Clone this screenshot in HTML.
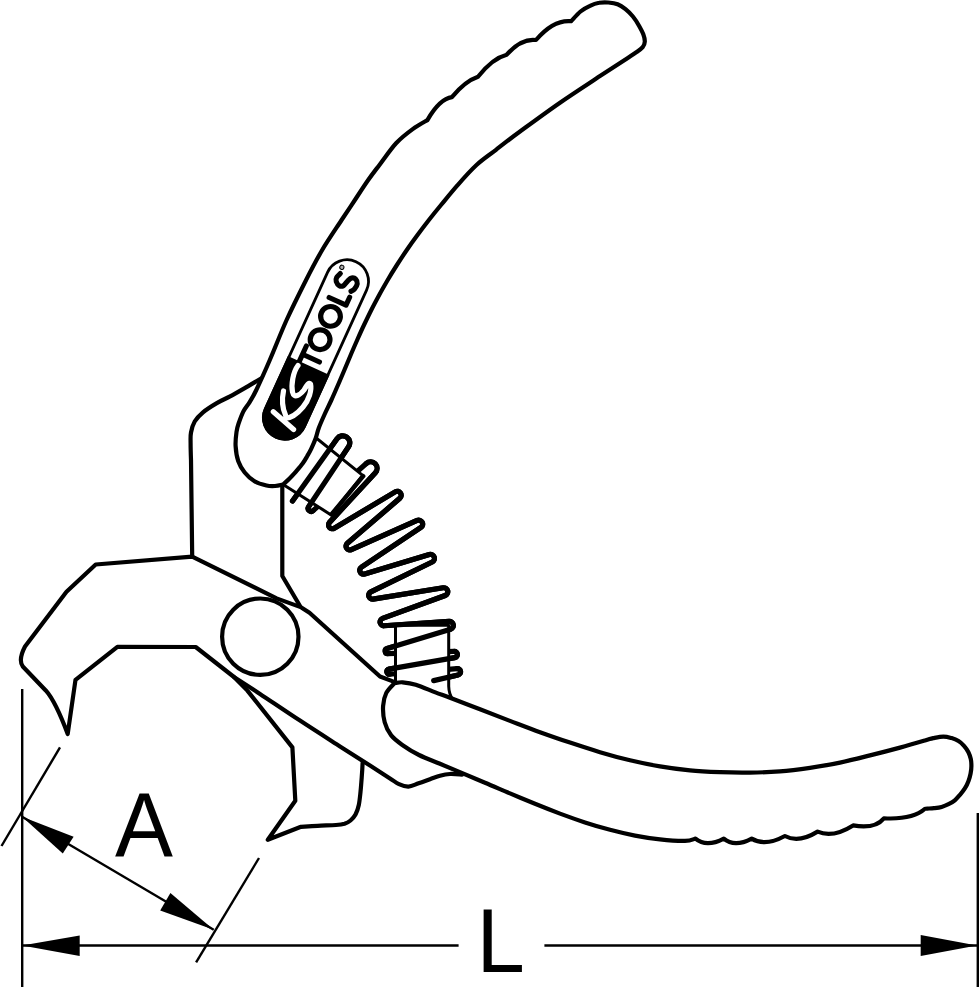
<!DOCTYPE html>
<html><head><meta charset="utf-8"><style>html,body{margin:0;padding:0;background:#fff;width:979px;height:1000px;overflow:hidden}svg{display:block}</style></head>
<body><svg width="979" height="1000" viewBox="0 0 979 1000">
<rect width="979" height="1000" fill="#fff"/>
<g fill="none" stroke="#000" stroke-width="5.2" stroke-linejoin="round" stroke-linecap="round">
<path d="M292.5 501L337.03 438.82A7 7 0 0 1 348.55 446.78L308.68 506.66A3 3 0 0 0 313.17 510.57L366.29 463.46A6.5 6.5 0 0 1 375.37 472.74L329.53 522.37A3.8 3.8 0 0 0 334.27 528.21L395.17 491.86A4 4 0 0 1 399.82 498.33L347.36 543.27A3.8 3.8 0 0 0 351.38 549.63L417.08 520.48A4 4 0 0 1 420.92 527.46L361.48 567.13A3.8 3.8 0 0 0 364.68 573.93L429.3 554.54A4 4 0 0 1 432.2 561.97L370.84 591.89A3.8 3.8 0 0 0 373.11 599.06L443.17 587.78A4 4 0 0 1 445.18 595.48L382.55 618.41A3.8 3.8 0 0 0 384.11 625.77L449.13 621.44A4 4 0 0 1 450.56 629.25L387.07 648.55A2.6 2.6 0 0 0 387.92 653.64L454.12 651.31A3.2 3.2 0 0 1 454.78 657.66L388.92 669.1A2.6 2.6 0 0 0 389.58 674.25L457.06 668.65A3.2 3.2 0 0 1 458.05 674.96L433.7 680.6"/>
</g>
<g fill="#fff" stroke="#000" stroke-width="3" stroke-linejoin="round" stroke-linecap="round">
<path d="M310 433L362.7 475.3L331.1 514.9L276 480Z"/>
<path d="M395.5 625.3L448.7 625.3L448.7 686.3Q449 694 452.5 699L452.5 705L395.5 705Z"/>
<path d="M363.2 476.2L331.6 514.2" fill="none" stroke-width="4.4"/>
</g>
<g fill="none" stroke="#000" stroke-width="5.2" stroke-linejoin="round" stroke-linecap="round">
<path d="M292.5 501L337.03 438.82A7 7 0 0 1 348.55 446.78L308.68 506.66A3 3 0 0 0 313.17 510.57M366.29 463.46A6.5 6.5 0 0 1 375.37 472.74L329.53 522.37A3.8 3.8 0 0 0 334.27 528.21L395.17 491.86A4 4 0 0 1 399.82 498.33L347.36 543.27A3.8 3.8 0 0 0 351.38 549.63L417.08 520.48A4 4 0 0 1 420.92 527.46L361.48 567.13A3.8 3.8 0 0 0 364.68 573.93L429.3 554.54A4 4 0 0 1 432.2 561.97L370.84 591.89A3.8 3.8 0 0 0 373.11 599.06L443.17 587.78A4 4 0 0 1 445.18 595.48L382.55 618.41A3.8 3.8 0 0 0 384.11 625.77L449.13 621.44A4 4 0 0 1 450.56 629.25L387.07 648.55A2.6 2.6 0 0 0 387.92 653.64M454.12 651.31A3.2 3.2 0 0 1 454.78 657.66L388.92 669.1A2.6 2.6 0 0 0 389.58 674.25M457.06 668.65A3.2 3.2 0 0 1 458.05 674.96L433.7 680.6"/>
</g>
<g fill="none" stroke="#000" stroke-width="4.2" stroke-linejoin="round" stroke-linecap="round">
<path d="M261 378.5C258.2 380.1 249.5 385.4 244.3 388.4C239.1 391.4 234.2 394.2 229.6 396.7C225 399.1 221.2 400.5 216.8 403.1C212.4 405.7 206.7 409.2 203 412.3C199.3 415.4 196.7 418.1 194.7 421.5C192.7 424.9 191.7 428.8 191 432.5C190.3 436.2 190.6 438.9 190.6 443.5C190.6 448.1 190.9 457.2 191 460L192.2 556.6"/>
<path d="M282.3 487L282.3 576L300 606"/>
<path d="M393.5 681.6L380 676.5L309.5 612.8L301.3 607.4L276.6 598.4L192.2 556.6L95.7 564.5L66.5 591.8L25 646.5Q18 660 22.8 666.5L46 690.7Q55.5 701.5 67.7 734L75.5 679.8L117.4 646.9L195.7 647L234 677C238.3 679.8 249 686.6 260 693.9C271 701.2 286.7 711.9 300 720.6C313.3 729.4 328.3 738.9 340 746.4C351.7 753.9 361.7 760.3 370 765.6C378.3 770.9 385.2 775.3 390 778.4C394.8 781.5 395.9 782.7 399 784.1C402.1 785.5 405.1 786.7 408.4 786.6C411.7 786.5 415 784.5 418.6 783.3C422.2 782.1 426.4 780.5 430 779.2C433.6 778 436.7 776.7 440 775.8C443.3 774.9 446.3 774.2 450 774C453.7 773.8 460 774.5 462 774.6"/>
<path d="M234 677L247.4 690.6L292.4 747.4L295.3 800.7L267.8 839.8L301 826.8C303.8 826.6 311.8 826.1 317.6 825.8C323.4 825.5 331.5 825.3 336 825C340.5 824.7 342.1 824.5 344.5 823.8C346.9 823 348.7 822 350.5 820.5C352.3 819 354.1 817.1 355.5 814.5C356.9 811.9 358 808.8 358.8 805C359.6 801.2 360 796.6 360.5 792C361 787.4 361.3 782.5 361.7 777.6C362.1 772.8 362.5 765.4 362.6 762.9"/>
<circle cx="260.3" cy="636.7" r="38.2"/>
</g>
<g fill="#fff" stroke="#000" stroke-width="4.2" stroke-linejoin="round">
<path d="M283.2 484.4C281.8 484.7 277.8 485.8 275 486C272.2 486.2 269.9 486.3 266.5 485.5C263.1 484.7 258.1 483.4 254.5 481.2C250.9 479 247.4 475.9 244.7 472.5C242 469.1 239.7 465.4 238.2 461C236.7 456.6 235.9 450.8 235.6 446C235.3 441.2 236 435.7 236.5 432C237 428.3 237.3 427.1 238.5 423.7C239.7 420.3 241.6 415 243.4 411.4C245.2 407.8 247.3 405.9 249.5 402.3C251.7 398.7 252.9 397.1 256.3 390C259.7 382.9 264.8 371.7 269.8 360C274.9 348.3 280.6 333.3 286.6 320C292.7 306.7 300.2 291.7 306.1 280C312 268.3 316.3 260 322.2 250C328.1 240 336.2 228.3 341.6 220C347.1 211.7 350.5 206.7 354.9 200C359.3 193.3 364 186 368.2 180C372.4 174 375.3 170.4 380 164.2C384.7 158 390.9 148.8 396.3 143C401.8 137.2 407.5 132.9 412.7 129.1C417.9 125.3 424.9 121.6 427.4 120.1Q439.6 99 451.9 97.2Q464.9 81.3 478 76.8Q492.4 58.3 506.7 54.7Q521.4 38 536 40Q553.5 19.4 571.1 21.2C572.7 19.6 577.4 14.1 580.5 11.5C583.6 8.9 586.9 7.2 590 5.8C593.1 4.3 596.1 3.3 599.2 2.8C602.3 2.2 605.3 2.2 608.4 2.5C611.5 2.8 614.8 3.2 617.6 4.3C620.5 5.4 623 7.2 625.5 9.2C628 11.2 630.6 13.8 632.9 16.5C635.1 19.2 637.3 22.7 639 25.7C640.7 28.7 642.3 31.6 643.3 34.3C644.3 37 644.9 39.6 644.8 41.7C644.7 43.9 644.1 45.5 642.7 47.2C641.3 48.9 639.2 50.3 636.6 52.1C634 53.9 633.5 54.2 627.4 58.2C621.3 62.2 611.2 68.7 600 76.1C588.8 83.5 573.3 93.5 560 102.7C546.7 111.9 530.7 123.7 520 131.5C509.3 139.3 503.2 144.2 496 149.8C488.8 155.4 482.9 159.1 476.5 165C470.1 170.9 463.5 178.4 457.6 185.1C451.7 191.8 445.8 199.2 441 205C436.2 210.8 432.8 215 428.9 220C425 225 421.2 230 417.5 235C413.8 240 410.2 245 406.8 250C403.4 255 400.1 260 396.9 265C393.7 270 390.6 275 387.7 280C384.8 285 381.9 290 379.2 295C376.5 300 373.8 305 371.3 310C368.8 315 366.4 320 364 325C361.6 330 359.4 335 357.2 340C355 345 352.8 350 350.7 355C348.6 360 346.5 365 344.4 370C342.3 375 340.2 380 338 385C335.8 390 333.7 395 331.4 400C329.1 405 326.4 410.3 324.3 415C322.2 419.7 320.1 424.4 318.7 428.2C317.3 432 317 434.6 315.8 438C314.6 441.4 312.7 445.6 311.3 448.6C309.9 451.6 308.7 453.6 307.3 456C305.9 458.4 304.7 460.6 302.8 463.2C300.9 465.8 298.4 468.7 296.2 471.3C293.9 473.9 291.5 476.5 289.3 478.7C287.1 480.9 284.2 483.4 283.2 484.4Z"/>
<path d="M394.5 683.1C395.9 683 399.1 682 402.7 682.3C406.2 682.6 410.4 683 415.8 684.7C421.2 686.4 429.7 690.2 435.4 692.4C441.1 694.6 442.6 694.9 450 697.7C457.4 700.5 470 705.4 480 709.3C490 713.2 500 717.1 510 720.9C520 724.7 530 728.6 540 732.2C550 735.8 560 739.3 570 742.6C580 745.9 590 749.2 600 752.2C610 755.2 620 757.9 630 760.3C640 762.7 650 764.7 660 766.4C670 768.1 680 769.4 690 770.4C700 771.4 710 771.8 720 772.2C730 772.6 740 772.8 750 772.6C760 772.5 770 772.1 780 771.3C790 770.5 800 769.2 810 767.8C820 766.3 830 764.7 840 762.6C850 760.5 860 757.9 870 755.4C880 752.9 890.8 750.1 900 747.6C909.2 745.1 919.5 742.1 925 740.5C930.5 738.9 930.1 738.8 933.2 738.1C936.3 737.5 940.3 736.6 943.4 736.6C946.5 736.6 949.1 737.4 951.6 738.1C954.1 738.8 956.4 739.7 958.5 741C960.6 742.3 962.4 744 964 745.8C965.6 747.6 967.2 749.8 968.3 752C969.4 754.2 970.3 756.7 970.8 759C971.3 761.3 971.4 763.6 971.4 766C971.4 768.4 971.1 771 970.6 773.5C970.1 776 969.4 778.5 968.5 781C967.6 783.5 966.4 785.9 965 788.2C963.6 790.5 961.7 792.8 960 794.8C958.3 796.8 956.7 798.7 954.8 800.3C952.9 801.9 950.7 803.1 948.5 804.2C946.3 805.3 944 806.2 941.6 806.9C939.2 807.6 936.4 807.9 934 808.2C931.6 808.5 928.8 808.5 927.3 808.6C925.8 808.7 925.4 808.8 925 808.8Q912.7 819.8 883.9 818.3Q874.7 829.4 853.1 825.4Q832.7 838.3 817.6 831.6Q798.6 843.4 784.9 836Q765 846.8 751.7 838.6Q734.4 847.8 723.8 838.6Q706.3 847.8 695.5 838.6C693.8 839 690.9 840.8 685 840.9C679.1 841 668.3 840.3 660 839.4C651.7 838.5 643.3 837.2 635 835.6C626.7 834 618.3 832 610 829.8C601.7 827.6 593.3 825.1 585 822.4C576.7 819.7 568.3 816.7 560 813.6C551.7 810.5 543.3 807.2 535 803.8C526.7 800.4 518.3 796.9 510 793.4C501.7 789.9 493.4 786.2 485 782.7C476.6 779.2 467.6 775.4 459.9 772.1C452.2 768.9 445.4 766.1 438.6 763.2C431.8 760.4 425 758 419 755C413 752 407.3 748.5 402.7 745.2C398.1 741.9 394.2 739.2 391.2 735.4C388.2 731.6 386 727.2 384.7 722.3C383.4 717.4 382.8 710.9 383.1 706C383.4 701.1 384.4 696.7 386.3 692.9C388.2 689.1 393.1 684.7 394.5 683.1Z"/>
</g>
<!-- logo -->
<g transform="translate(315.95 349.475) rotate(-65.5)">
<rect x="-96.45" y="-21.45" width="192.9" height="42.9" rx="21.45" fill="#fff" stroke="#000" stroke-width="2.8"/>
<path d="M-17.5 -22.85L-75 -22.85A22.85 22.85 0 0 0 -75 22.85L-17.5 22.85Z" fill="#000"/>
<g fill="none" stroke="#000" stroke-width="5.1" stroke-linecap="round" stroke-linejoin="round">
<path d="M-19.1 -10.2L-0.8 -10.2M-9.95 -10.2L-9.95 8.4"/>
<circle cx="10.66" cy="-0.3" r="9.85" stroke-width="5.2"/>
<circle cx="36.14" cy="-0.5" r="9.85" stroke-width="5.2"/>
<path d="M52.8 -9.6L52.8 9L61.5 9"/>
<path d="M79.2 -9.3C78.3 -9.6 75.6 -10.9 74.1 -11C72.6 -11.1 71.3 -10.7 70.2 -9.7C69.1 -8.7 67.8 -6.6 67.7 -5.2C67.6 -3.8 68 -2.5 69.4 -1.5C70.8 -0.5 74.3 -0.1 76 0.6C77.7 1.3 79 1.7 79.8 2.8C80.5 3.8 81 5.7 80.5 6.9C80 8.2 78.5 9.8 77 10.3C75.5 10.8 72.8 10.4 71.2 10C69.6 9.6 68.1 8.2 67.5 7.8"/>
</g>
<circle cx="85.5" cy="-10.5" r="2.1" fill="#aaa" stroke="#000" stroke-width="1"/>
</g>
<g fill="none" stroke="#fff" stroke-width="5.2" stroke-linecap="round" stroke-linejoin="round">
<path d="M273.3 411.8L293.6 429.5"/>
<path d="M283.5 391C282 398 281.5 406 285.5 415"/>
<path d="M298 365.5C293 372 291 385 292.5 392C294 399 300 395 304 390C307 385 309 382 310.5 384C312 390 309 400 303 407C298 413 291 418 285 418.5"/>
</g>
<!-- dimensions -->
<g stroke="#000" stroke-width="2.4" fill="none">
<line x1="22.2" y1="689" x2="22.2" y2="987"/>
<line x1="977.8" y1="813" x2="977.8" y2="987"/>
<line x1="22" y1="945.5" x2="458.6" y2="945.5"/>
<line x1="544.4" y1="945.5" x2="977" y2="945.5"/>
<line x1="60" y1="747.4" x2="1.5" y2="846"/>
<line x1="259" y1="858" x2="196.1" y2="962.3"/>
<line x1="22.1" y1="816.8" x2="213.7" y2="929.8"/>
</g>
<g fill="#000">
<path d="M22 945.5L79.7 935.5L79.7 956Z"/>
<path d="M977 945.5L920.7 935.1L920.7 956Z"/>
<path d="M22.1 816.8L73.6 836.7L62.8 853.6Z"/>
<path d="M213.7 929.8L170.4 893.1L160.2 910.6Z"/>
</g>
<text transform="translate(115 855.5) scale(0.96 1)" font-family="Liberation Sans, sans-serif" font-size="90.5" fill="#000">A</text>
<text transform="translate(476.6 971.8) scale(0.96 1)" font-family="Liberation Sans, sans-serif" font-size="90.5" fill="#000">L</text>
</svg></body></html>
